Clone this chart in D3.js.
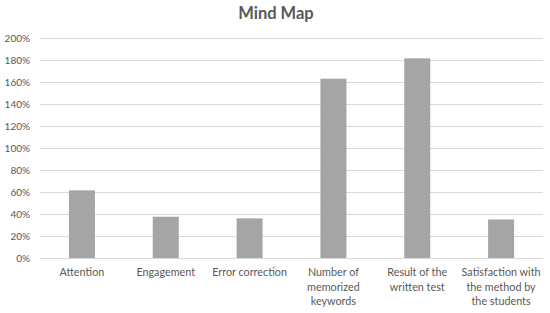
<!DOCTYPE html>
<html>
<head>
<meta charset="utf-8">
<script src="https://cdn.jsdelivr.net/npm/d3@7"></script>
<style>
  body { margin: 0; background: #fff; }
  text { font-family: Lato, "Open Sans", sans-serif; }
</style>
</head>
<body>
<div id="chart"></div>
<script>
// chart data
const categories = [
    ["Attention"],
    ["Engagement"],
    ["Error correction"],
    ["Number of", "memorized", "keywords"],
    ["Result of the", "written test"],
    ["Satisfaction with", "the method by", "the students"]
];
const values = [0.615, 0.375, 0.36, 1.63, 1.815, 0.35];
const yTicks = [0, 0.2, 0.4, 0.6, 0.8, 1.0, 1.2, 1.4, 1.6, 1.8, 2.0];

const width = 550, height = 313;
const margin = {top: 38, right: 7, bottom: 55, left: 40};

const svg = d3.select("#chart")
    .append("svg")
    .attr("width", width)
    .attr("height", height);

const x = d3.scaleBand()
    .domain(d3.range(categories.length))
    .range([margin.left, width - margin.right])
    .paddingInner(0.69)
    .paddingOuter(0.345);

const y = d3.scaleLinear()
    .domain([0, 2])
    .range([height - margin.bottom, margin.top]);

// title
svg.append("text")
    .attr("x", width / 2 + 1)
    .attr("y", 19)
    .attr("text-anchor", "middle")
    .attr("font-size", 16.5)
    .attr("font-weight", "bold")
    .attr("fill", "#595959")
    .text("Mind Map");

// gridlines
svg.append("g")
    .selectAll("line")
    .data(yTicks)
    .enter()
    .append("line")
    .attr("x1", margin.left)
    .attr("x2", width - margin.right)
    .attr("y1", d => Math.round(y(d)) + 0.5)
    .attr("y2", d => Math.round(y(d)) + 0.5)
    .attr("stroke", "#d9d9d9")
    .attr("stroke-width", 1);

// y tick labels
svg.append("g")
    .selectAll("text")
    .data(yTicks)
    .enter()
    .append("text")
    .attr("x", 30)
    .attr("y", d => y(d))
    .attr("dy", "0.35em")
    .attr("text-anchor", "end")
    .attr("font-size", 10)
    .attr("fill", "#595959")
    .text(d => Math.round(d * 100) + "%");

// bars
svg.append("g")
    .selectAll("rect")
    .data(values)
    .enter()
    .append("rect")
    .attr("x", (d, i) => x(i))
    .attr("width", x.bandwidth())
    .attr("y", d => y(d))
    .attr("height", d => y(0) - y(d))
    .attr("fill", "#a5a5a5");

// category labels
const labels = svg.append("g")
    .selectAll("text")
    .data(categories)
    .enter()
    .append("text")
    .attr("x", (d, i) => x(i) + x.bandwidth() / 2)
    .attr("y", 276)
    .attr("text-anchor", "middle")
    .attr("font-size", 10.8)
    .attr("fill", "#595959");

labels.selectAll("tspan")
    .data(d => d)
    .enter()
    .append("tspan")
    .attr("x", function() { return this.parentNode.getAttribute("x"); })
    .attr("dy", (d, i) => i === 0 ? 0 : 14.7)
    .text(d => d);
</script>
</body>
</html>
